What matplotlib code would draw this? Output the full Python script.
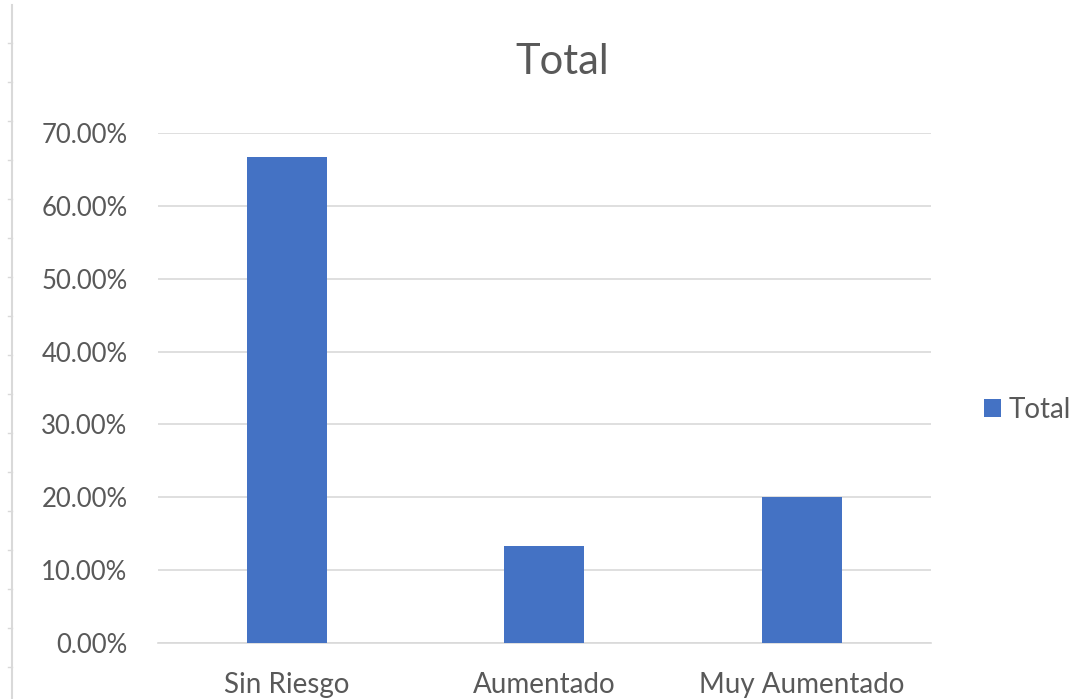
import matplotlib
matplotlib.use("Agg")
import matplotlib.pyplot as plt
from matplotlib.lines import Line2D
from matplotlib.ticker import FuncFormatter, MultipleLocator

categories = ["Sin Riesgo", "Aumentado", "Muy Aumentado"]
values = [66.67, 13.33, 20.00]
series_name = "Total"

W, H = 1081, 699
fig = plt.figure(figsize=(W / 100, H / 100), dpi=100)
plt.rcParams["font.family"] = ["Lato", "DejaVu Sans"]

# plot area in pixel coordinates
left, right, top, bottom = 158, 930.5, 133, 643
ax = fig.add_axes([left / W, 1 - bottom / H, (right - left) / W, (bottom - top) / H])

bar_color = "#4472C4"
text_color = "#595959"
grid_color = "#D9D9D9"

x = list(range(len(categories)))
ax.bar(x, values, width=0.31, color=bar_color, zorder=3, label=series_name)
ax.set_xlim(-0.5, len(categories) - 0.5)
ax.set_ylim(0, 70)
ax.yaxis.set_major_locator(MultipleLocator(10))
ax.yaxis.set_major_formatter(FuncFormatter(lambda v, p: f"{v:.2f}%"))
ax.set_xticks(x)
ax.set_xticklabels(categories)

ax.grid(axis="y", color=grid_color, linewidth=1.2, zorder=0)
for s in ["top", "right", "left"]:
    ax.spines[s].set_visible(False)
ax.spines["bottom"].set_color(grid_color)
ax.spines["bottom"].set_linewidth(1.2)
ax.tick_params(axis="both", length=0, colors=text_color)
ax.tick_params(axis="y", labelsize=18.5, pad=22)
ax.tick_params(axis="x", labelsize=20, pad=21)

fig.text(562 / W, 1 - 62 / H, "Total", ha="center", va="center",
         fontsize=30, color=text_color)

leg = fig.legend(loc="center left", bbox_to_anchor=(984 / W, 1 - 410 / H),
                 frameon=False, fontsize=20, handlelength=0.62, handleheight=0.62,
                 handletextpad=0.25, borderaxespad=0, borderpad=0)
for t in leg.get_texts():
    t.set_color(text_color)

# ruler strip along the left edge
fig.add_artist(Line2D([12 / W, 12 / W], [0, 1 - 5 / H], color="#D9D9D9",
                      linewidth=1.5, transform=fig.transFigure))
for yp in range(43, 699, 39):
    fig.add_artist(Line2D([8 / W, 12 / W], [1 - yp / H, 1 - yp / H], color="#D9D9D9",
                          linewidth=1, transform=fig.transFigure))

fig.savefig("out.png", dpi=100)
